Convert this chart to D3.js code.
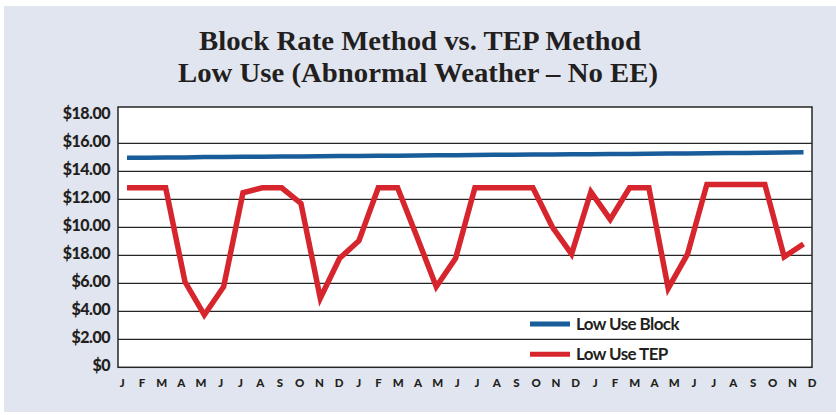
<!DOCTYPE html>
<html>
<head>
<meta charset="utf-8">
<script src="https://cdn.jsdelivr.net/npm/d3@7"></script>
<style>
  html, body { margin: 0; padding: 0; background: #ffffff; }
  svg { display: block; }
</style>
</head>
<body>
<svg id="chart" width="836" height="415"></svg>
<script>
const monthLabels = ["J","F","M","A","M","J","J","A","S","O","N","D",
                     "J","F","M","A","M","J","J","A","S","O","N","D",
                     "J","F","M","A","M","J","J","A","S","O","N","D"];
const yTickValues = [0, 2, 4, 6, 8, 10, 12, 14, 16, 18];
const yTickLabels = ["$0","$2.00","$4.00","$6.00","$18.00","$10.00","$12.00","$14.00","$16.00","$18.00"];
const seriesNames = ["Low Use Block", "Low Use TEP"];
const lowUseBlock = [14.97,14.98,14.99,15.00,15.02,15.03,15.04,15.05,15.06,15.07,15.08,15.09,
                     15.10,15.11,15.12,15.13,15.15,15.16,15.17,15.18,15.19,15.20,15.21,15.22,
                     15.23,15.24,15.25,15.26,15.27,15.28,15.29,15.31,15.32,15.33,15.34,15.36];
const lowUseTEP = [12.83,12.83,12.83,6.11,3.74,5.76,12.47,12.83,12.83,11.71,4.93,7.79,
                   9.04,12.83,12.83,9.33,5.76,7.79,12.83,12.83,12.83,12.83,10.04,8.09,
                   12.54,10.57,12.83,12.83,5.64,8.09,13.07,13.07,13.07,13.07,7.90,8.81];

const svg = d3.select("#chart");
const W = 836, H = 415;
const plot = { left: 118, right: 812, top: 107, bottom: 367.3 };
const colors = { block: "#185c99", tep: "#d7252d", grid: "#262626", text: "#231f20", panel: "#e1e5ef" };

// panel background
svg.append("rect").attr("x", 4).attr("y", 6).attr("width", W - 4).attr("height", H - 9)
  .attr("fill", colors.panel);

// title
const title = svg.append("g").attr("font-family", "'Liberation Serif', 'Times New Roman', serif")
  .attr("font-weight", "bold").attr("font-size", 28).attr("fill", colors.text)
  .attr("text-anchor", "middle");
title.append("text").attr("x", 420).attr("y", 50).attr("textLength", 442)
  .attr("lengthAdjust", "spacingAndGlyphs").text("Block Rate Method vs. TEP Method");
title.append("text").attr("x", 418).attr("y", 81.5).attr("textLength", 480)
  .attr("lengthAdjust", "spacingAndGlyphs").text("Low Use (Abnormal Weather \u2013 No EE)");

// scales
const y = d3.scaleLinear().domain([0, 18.6]).range([plot.bottom, plot.top]);
const xData = d3.scaleLinear().domain([0, lowUseTEP.length - 1]).range([127, 803.5]);
const xLabel = d3.scalePoint().domain(d3.range(monthLabels.length)).range([121.7, 811.7]);

// plot area
svg.append("rect").attr("x", plot.left).attr("y", plot.top)
  .attr("width", plot.right - plot.left).attr("height", plot.bottom - plot.top)
  .attr("fill", "#ffffff");

// gridlines
svg.append("g").selectAll("line")
  .data(yTickValues.filter(v => v > 0 && v < 18))
  .join("line")
  .attr("x1", plot.left).attr("x2", plot.right)
  .attr("y1", d => y(d)).attr("y2", d => y(d))
  .attr("stroke", colors.grid).attr("stroke-width", 1.2);

// y axis labels
const yAxis = d3.axisLeft(y).tickValues(yTickValues).tickSize(0).tickPadding(8)
  .tickFormat((d, i) => yTickLabels[i]);
const yG = svg.append("g").attr("transform", `translate(${plot.left},0)`).call(yAxis);
yG.select(".domain").remove();
yG.selectAll("text").attr("font-family", "Lato, 'Open Sans', sans-serif")
  .attr("font-weight", "900").attr("font-size", 16).attr("fill", colors.text)
  .attr("dy", "0.22em").attr("letter-spacing", -0.5);

// x axis labels
const xAxis = d3.axisBottom(xLabel).tickSize(0).tickPadding(0).tickFormat(i => monthLabels[i]);
const xG = svg.append("g").attr("transform", `translate(0,${plot.bottom + 12})`).call(xAxis);
xG.select(".domain").remove();
xG.selectAll("text").attr("font-family", "Lato, 'Open Sans', sans-serif")
  .attr("font-weight", "900").attr("font-size", 11.5).attr("fill", colors.text);

// lines
const lineGen = d3.line().x((d, i) => xData(i)).y(d => y(d));
svg.append("path").datum(lowUseBlock).attr("d", lineGen)
  .attr("fill", "none").attr("stroke", colors.block).attr("stroke-width", 4.5);
svg.append("path").datum(lowUseTEP).attr("d", lineGen)
  .attr("fill", "none").attr("stroke", colors.tep).attr("stroke-width", 5.5)
  .attr("stroke-linejoin", "miter");

// plot frame
svg.append("rect").attr("x", plot.left).attr("y", plot.top)
  .attr("width", plot.right - plot.left).attr("height", plot.bottom - plot.top)
  .attr("fill", "none").attr("stroke", colors.grid).attr("stroke-width", 1.5);

// legend
const legend = svg.append("g");
const legendItems = [
  { name: seriesNames[0], color: colors.block, y: 324 },
  { name: seriesNames[1], color: colors.tep, y: 354.3 }
];
legendItems.forEach(item => {
  legend.append("line").attr("x1", 530).attr("x2", 570).attr("y1", item.y).attr("y2", item.y)
    .attr("stroke", item.color).attr("stroke-width", 5);
  legend.append("text").attr("x", 576).attr("y", item.y).attr("dy", "0.36em")
    .attr("font-family", "Lato, 'Open Sans', sans-serif").attr("font-weight", "bold")
    .attr("font-size", 17).attr("letter-spacing", -0.6).attr("fill", colors.text)
    .text(item.name);
});
</script>
</body>
</html>
